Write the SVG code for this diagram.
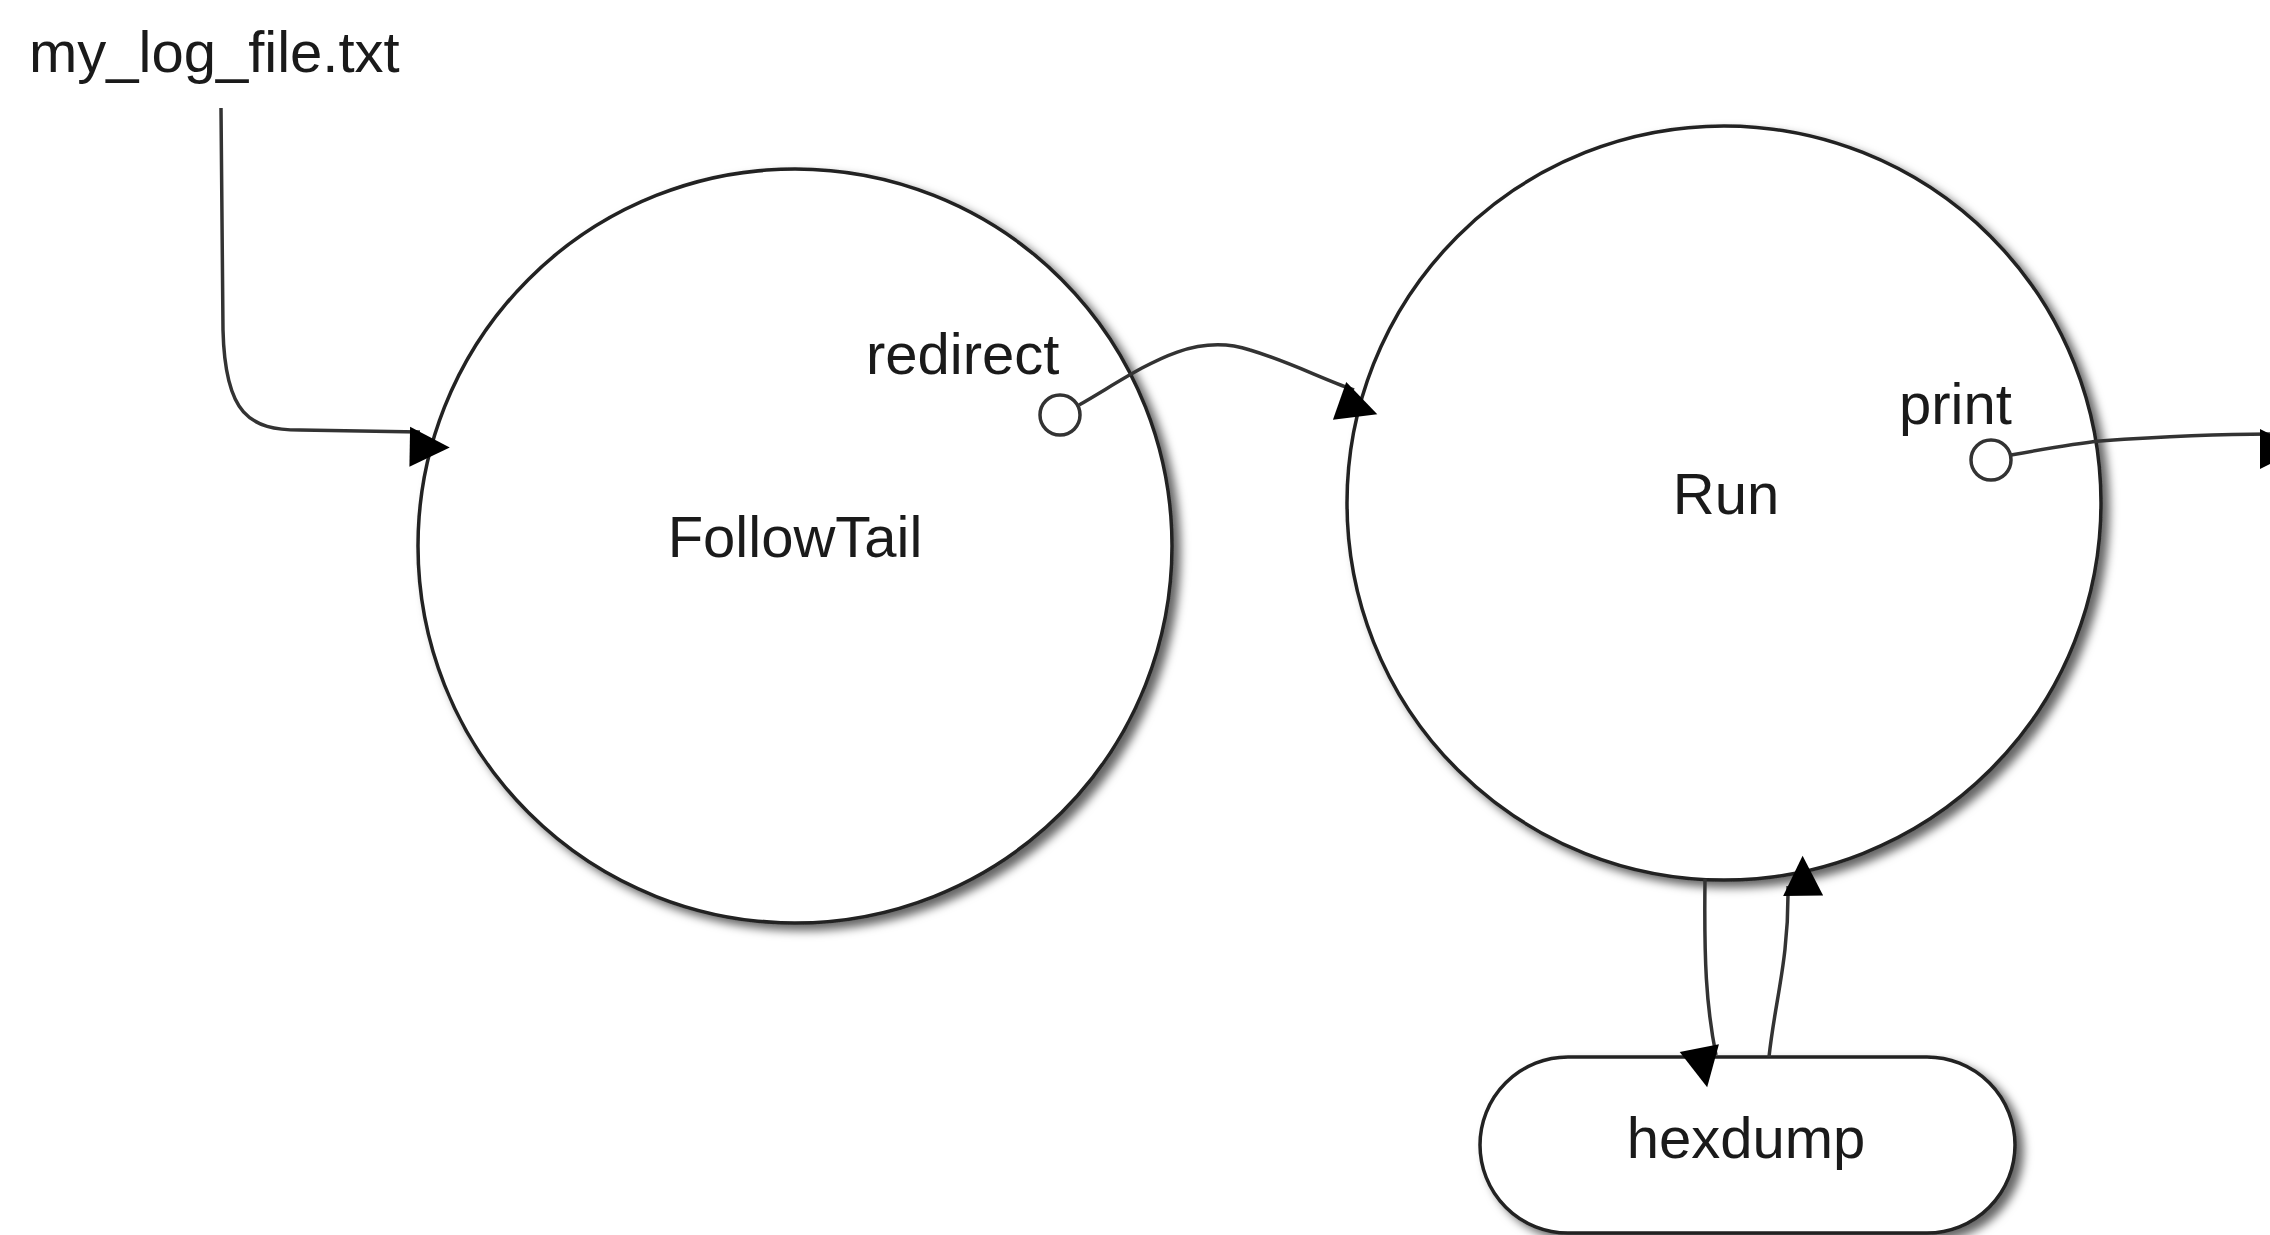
<svg xmlns="http://www.w3.org/2000/svg" width="2270" height="1235" viewBox="0 0 2270 1235">
<style>
.node{fill:#fff;stroke:#222;stroke-width:3.5}
.port{fill:#fff;stroke:#333;stroke-width:3.5}
.lbl{font-family:"Liberation Sans",Arial,sans-serif;font-size:58px;fill:#1a1a1a}
.edge{fill:none;stroke:#333;stroke-width:3.5}
</style>
<defs>
<filter id="sh" x="-10%" y="-10%" width="130%" height="130%">
<feDropShadow dx="7" dy="6" stdDeviation="5" flood-color="#000" flood-opacity="0.6"/>
</filter>
<marker id="arr" viewBox="0 0 10 10" refX="10" refY="5" markerWidth="12" markerHeight="10" markerUnits="userSpaceOnUse" orient="auto" overflow="visible">
<path d="M0,0 L10,5 L0,10 Z" fill="#000" transform="scale(4)" />
</marker>
</defs>
<rect width="2270" height="1235" fill="#fff"/>
<g id="file-label">
<text class="lbl" x="29" y="72">my_log_file.txt</text>
</g>
<g id="FollowTail">
<circle class="node" cx="795" cy="546" r="377" filter="url(#sh)"/>
<text class="lbl" x="795" y="557" text-anchor="middle">FollowTail</text>
</g>
<g id="Run">
<circle class="node" cx="1724" cy="503" r="377" filter="url(#sh)"/>
<text class="lbl" x="1726" y="514" text-anchor="middle">Run</text>
</g>
<g id="hexdump">
<rect class="node" x="1480" y="1057" width="535" height="176" rx="88" ry="88" filter="url(#sh)"/>
<text class="lbl" x="1746" y="1158" text-anchor="middle">hexdump</text>
</g>
<g id="connectors">
<path class="edge" d="M221 108 L223 330 C225 415 250 430 300 430 L420 432" marker-end="url(#arr)"/>
<path class="edge" d="M1079 405 C1140 370 1190 330 1250 350 C1290 362 1320 378 1354 390" marker-end="url(#arr)"/>
<path class="edge" d="M2011 455 C2050 448 2080 443 2100 441 C2170 436 2220 434 2270 434" marker-end="url(#arr)"/>
<path class="edge" d="M1705 879 C1704 960 1706 1005 1716 1055" marker-end="url(#arr)"/>
<path class="edge" d="M1769 1057 C1775 1000 1789 960 1788 886" marker-end="url(#arr)"/>
</g>
<g id="ports">
<g id="port-redirect">
<text class="lbl" x="866" y="374">redirect</text>
<circle class="port" cx="1060" cy="415" r="20"/>
</g>
<g id="port-print">
<text class="lbl" x="1899" y="424">print</text>
<circle class="port" cx="1991" cy="460" r="20"/>
</g>
</g>
</svg>
